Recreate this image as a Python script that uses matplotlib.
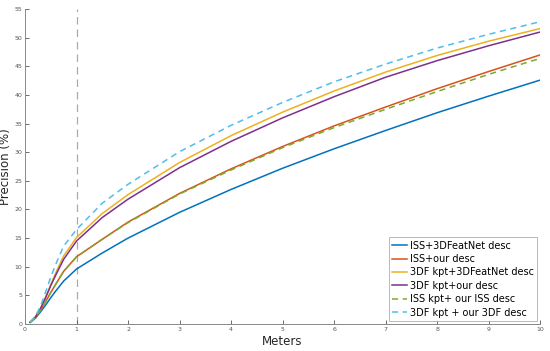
import matplotlib
matplotlib.use("Agg")
import matplotlib.pyplot as plt

x = [0.1, 0.2, 0.3, 0.4, 0.5, 0.6, 0.75, 1.0, 1.5, 2, 3, 4, 5, 6, 7, 8, 9, 10]
iss_3dfeat = [0.3, 1.0, 2.1, 3.3, 4.6, 5.8, 7.5, 9.6, 12.4, 15.0, 19.5, 23.5, 27.2, 30.6, 33.8, 36.9, 39.8, 42.6]
iss_our = [0.3, 1.1, 2.4, 3.9, 5.5, 7.0, 9.2, 11.75, 14.8, 17.8, 22.8, 27.1, 31.0, 34.6, 37.9, 41.1, 44.1, 47.0]
df_3dfeat = [0.3, 1.2, 2.7, 4.7, 6.9, 9.0, 11.9, 15.1, 19.3, 22.6, 28.2, 32.9, 37.0, 40.7, 44.0, 46.9, 49.4, 51.6]
df_our = [0.3, 1.2, 2.7, 4.6, 6.7, 8.6, 11.3, 14.5, 18.6, 21.8, 27.3, 31.9, 36.0, 39.7, 43.1, 46.0, 48.6, 51.0]
iss_ouriss = [0.3, 1.1, 2.4, 3.9, 5.5, 7.0, 9.2, 11.7, 14.8, 17.7, 22.7, 26.9, 30.8, 34.3, 37.5, 40.6, 43.6, 46.4]
df_our3df = [0.3, 1.3, 3.1, 5.6, 8.2, 10.5, 13.6, 16.5, 21.1, 24.4, 30.1, 34.7, 38.7, 42.3, 45.4, 48.2, 50.6, 52.8]

labels = ["ISS+3DFeatNet desc", "ISS+our desc", "3DF kpt+3DFeatNet desc",
          "3DF kpt+our desc", "ISS kpt+ our ISS desc", "3DF kpt + our 3DF desc"]
series = [iss_3dfeat, iss_our, df_3dfeat, df_our, iss_ouriss, df_our3df]
colors = ["#0072BD", "#D95319", "#EDB120", "#7E2F8E", "#77AC30", "#4DBEEE"]
styles = ["-", "-", "-", "-", (0, (4, 3)), (0, (4, 3))]

fig = plt.figure(figsize=(5.5, 3.51), dpi=100)
ax = fig.add_axes([0.0455, 0.077, 0.9365, 0.897])

ax.axvline(1, color="#aaaaaa", linestyle=(0, (6, 4)), linewidth=0.9, zorder=1)
for ys, c, s, l in zip(series, colors, styles, labels):
    ax.plot(x, ys, color=c, linestyle=s, linewidth=1.1, label=l, zorder=2)

ax.set_xlim(0, 10)
ax.set_ylim(0, 55)
ax.set_xticks(range(0, 11))
ax.set_yticks(range(0, 56, 5))
ax.tick_params(direction="in", length=3, width=0.6, labelsize=4.5,
               colors="#555555", pad=2)
for sp in ["top", "right"]:
    ax.spines[sp].set_visible(False)
for sp in ["left", "bottom"]:
    ax.spines[sp].set_color("#888888")
    ax.spines[sp].set_linewidth(0.7)

ax.set_xlabel("Meters", fontsize=8.5, color="#262626", labelpad=2)
ax.set_ylabel("Precision (%)", fontsize=8.5, color="#262626", labelpad=2)

leg = ax.legend(loc="lower right", fontsize=7, frameon=True, fancybox=False,
                edgecolor="#999999", handlelength=1.5, handletextpad=0.3,
                borderpad=0.35, labelspacing=0.35, borderaxespad=0.3)
leg.get_frame().set_linewidth(0.6)

fig.savefig("out.png", dpi=100)
